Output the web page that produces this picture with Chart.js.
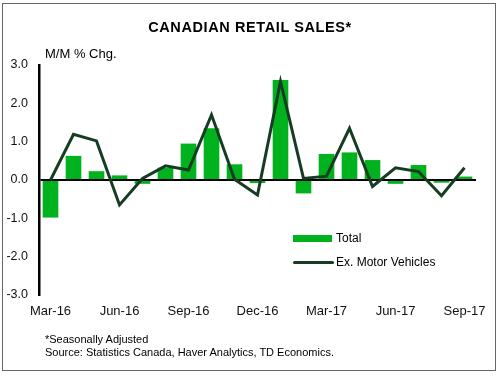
<!DOCTYPE html>
<html>
<head>
<meta charset="utf-8">
<script src="https://cdn.jsdelivr.net/npm/chart.js@4"></script>
<style>
  body { margin: 0; background: #fff; font-family: "Liberation Sans", Arial, sans-serif; }
  #wrap { position: relative; width: 500px; height: 376px; }
  #frame { position: absolute; left: 2px; top: 3px; width: 492px; height: 366px; border: 1.5px solid #666; }
  #title { position: absolute; left: 0; width: 500px; top: 19px; text-align: center; font-weight: bold; font-size: 14.5px; letter-spacing: 0.6px; }
  #unit { position: absolute; left: 45px; top: 46px; font-size: 13px; }
  #note { position: absolute; left: 45px; top: 333px; font-size: 11px; line-height: 13px; }
  #legend { position: absolute; left: 293px; top: 229px; font-size: 12px; }
  .row { position: relative; height: 24px; }
  .box { position: absolute; left: 0; top: 6px; width: 39px; height: 7px; background: #00b21e; }
  .ln { position: absolute; left: 0; top: 8px; width: 41px; height: 3px; background: #163d22; border-radius: 2px; }
  .lab { position: absolute; left: 43px; top: 2px; white-space: nowrap; }
  canvas { position: absolute; left: 0; top: 0; }
</style>
</head>
<body>
<div id="wrap">
  <div id="frame"></div>
  <canvas id="chart" width="500" height="376"></canvas>
  <div id="title">CANADIAN RETAIL SALES*</div>
  <div id="unit">M/M % Chg.</div>
  <div id="legend">
    <div class="row"><div class="box"></div><div class="lab">Total</div></div>
    <div class="row"><div class="ln"></div><div class="lab">Ex. Motor Vehicles</div></div>
  </div>
  <div id="note">*Seasonally Adjusted<br>Source: Statistics Canada, Haver Analytics, TD Economics.</div>
</div>
<script>
// monthly data, Mar-16 .. Sep-17
const months = ["Mar-16", "Apr-16", "May-16", "Jun-16", "Jul-16", "Aug-16", "Sep-16", "Oct-16", "Nov-16", "Dec-16",
    "Jan-17", "Feb-17", "Mar-17", "Apr-17", "May-17", "Jun-17", "Jul-17", "Aug-17", "Sep-17"];
const total = [-0.98, 0.63, 0.23, 0.12, -0.1, 0.32, 0.95, 1.35, 0.41, -0.08,
    2.61, -0.35, 0.68, 0.72, 0.52, -0.1, 0.39, -0.07, 0.09];
const exMotor = [0.0, 1.19, 1.02, -0.65, 0.04, 0.37, 0.26, 1.7, 0.02, -0.39,
    2.57, 0.04, 0.1, 1.35, -0.17, 0.32, 0.22, -0.41, 0.32];
const yTicks = [-3, -2, -1, 0, 1, 2, 3];

const ctx = document.getElementById("chart").getContext("2d");

new Chart(ctx, {
    data: {
        labels: months,
        datasets: [
            {
                type: "line",
                label: "Ex. Motor Vehicles",
                data: exMotor,
                borderColor: "#163d22",
                borderWidth: 3,
                pointRadius: 0,
                tension: 0,
                fill: false,
            },
            {
                type: "bar",
                label: "Total",
                data: total,
                backgroundColor: "#00b21e",
                barPercentage: 0.68,
                categoryPercentage: 1,
            },
        ],
    },
    options: {
        responsive: false,
        animation: false,
        layout: { padding: { left: 0, right: 24, top: 65, bottom: 51 } },
        plugins: {
            legend: { display: false },
            tooltip: { enabled: false },
        },
        scales: {
            x: {
                grid: { display: false, drawTicks: false },
                border: { display: false },
                afterFit: s => { s.height = 30; },
                ticks: {
                    autoSkip: false,
                    maxRotation: 0,
                    padding: 9,
                    color: "#111",
                    font: { family: "Liberation Sans", size: 13 },
                    callback: (v, i) => (i % 3 === 0 ? months[i] : ""),
                },
            },
            y: {
                min: -3,
                max: 3,
                afterFit: s => { s.width = 39; },
                afterBuildTicks: s => { s.ticks = yTicks.map(v => ({ value: v })); },
                border: { display: true, color: "#000", width: 2.5 },
                grid: {
                    drawTicks: false,
                    lineWidth: 2,
                    color: c => (c.tick && c.tick.value === 0 ? "#000" : "rgba(0,0,0,0)"),
                },
                ticks: {
                    padding: 11,
                    color: "#111",
                    font: { family: "Liberation Sans", size: 12.5 },
                    callback: v => v.toFixed(1),
                },
            },
        },
    },
});
</script>
</body>
</html>
